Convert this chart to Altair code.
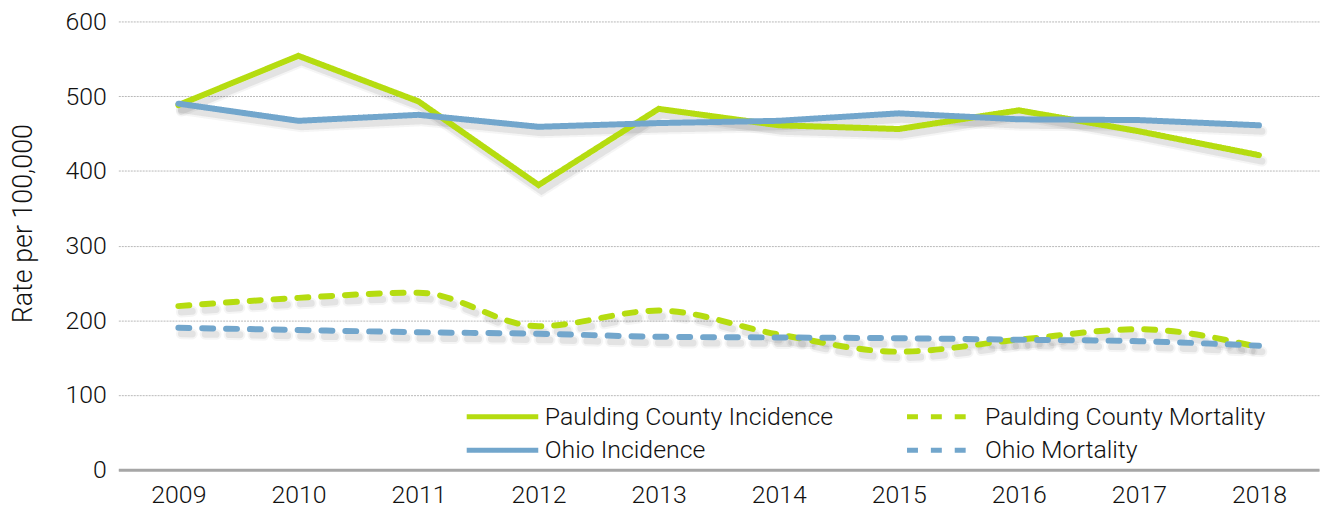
import altair as alt
import pandas as pd

years = ["2009", "2010", "2011", "2012", "2013", "2014", "2015", "2016", "2017", "2018"]
paulding_incidence = [488, 554, 493, 381, 483, 461, 456, 481, 453, 421]
paulding_mortality = [219, 230, 237, 192, 213, 181, 158, 174, 188, 164]
ohio_incidence = [490, 467, 475, 459, 464, 467, 477, 469, 468, 461]
ohio_mortality = [190, 187, 184, 182, 178, 177, 176, 174, 172, 166]

series_names = ["Paulding County Incidence", "Paulding County Mortality",
                "Ohio Incidence", "Ohio Mortality"]
series_values = [paulding_incidence, paulding_mortality, ohio_incidence, ohio_mortality]
series_colors = ["#b5dc10", "#b5dc10", "#72a6cc", "#72a6cc"]
series_dashes = [[1, 0], [11, 13], [1, 0], [11, 13]]
series_interp = ["linear", "monotone", "linear", "monotone"]
# legend fills column by column: PI, OI | PM, OM
legend_order = [0, 2, 1, 3]

rows = []
for name, vals in zip(series_names, series_values):
    for y, v in zip(years, vals):
        rows.append({"year": y, "value": v, "series": name})
df = pd.DataFrame(rows)

FONT = "Roboto"
TXT = "#111111"

legend = alt.Legend(orient="none", legendX=366, legendY=377, direction="vertical",
                    columns=2, columnPadding=63, rowPadding=0,
                    symbolType="M-2,0H2", symbolSize=1296,
                    symbolStrokeWidth=5, labelFontSize=25,
                    labelFont=FONT, labelFontWeight=300,
                    labelColor=TXT, labelOffset=22, labelLimit=400)

dom = [series_names[i] for i in legend_order]
x_enc = alt.X("year:N", sort=years, title=None,
              scale=alt.Scale(paddingInner=0, paddingOuter=0),
              axis=alt.Axis(labelAngle=0, ticks=False, labelPadding=13,
                            domainColor="#a6a6a6", domainWidth=3,
                            labelFontSize=25, labelColor=TXT,
                            labelFont=FONT, labelFontWeight=300, grid=False))
y_enc = alt.Y("value:Q", title="Rate per 100,000",
              scale=alt.Scale(domain=[0, 600], nice=False),
              axis=alt.Axis(values=[0, 100, 200, 300, 400, 500, 600], domain=False,
                            ticks=False, labelPadding=12, gridColor="#b8b8b8",
                            gridDash=[2, 1], gridWidth=1,
                            labelFontSize=25, labelColor=TXT,
                            labelFont=FONT, labelFontWeight=300,
                            titleFontSize=27, titleFont=FONT, titleFontWeight=300,
                            titleColor=TXT, titlePadding=28, titleY=203))
color_enc = alt.Color("series:N", title=None,
                      scale=alt.Scale(domain=dom,
                                      range=[series_colors[i] for i in legend_order]),
                      legend=legend)
dash_enc = alt.StrokeDash("series:N", title=None,
                          scale=alt.Scale(domain=dom,
                                          range=[series_dashes[i] for i in legend_order]),
                          legend=legend)

layers = []
# soft drop shadows (constant styling, no legend involvement)
for name, interp, dash in zip(series_names, series_interp, series_dashes):
    for w, op in [(11, 0.04), (7, 0.07)]:
        layers.append(
            alt.Chart(df).transform_filter(alt.datum.series == name)
            .mark_line(strokeWidth=w, color="#000000", opacity=op, strokeCap="round",
                       strokeDash=dash, xOffset=3, yOffset=6, interpolate=interp)
            .encode(x=x_enc, y=y_enc)
        )
for name, interp in zip(series_names, series_interp):
    layers.append(
        alt.Chart(df).transform_filter(alt.datum.series == name)
        .mark_line(strokeWidth=6, strokeCap="round", interpolate=interp)
        .encode(x=x_enc, y=y_enc, color=color_enc, strokeDash=dash_enc)
    )

chart = alt.layer(*layers).properties(
    width=1208, height=451,
    autosize=alt.AutoSizeParams(type="none"),
    padding={"left": 111, "top": 12, "right": 2, "bottom": 40},
).configure_view(stroke=None)

chart.save("out.html", embed_options={"renderer": "svg", "actions": False})
